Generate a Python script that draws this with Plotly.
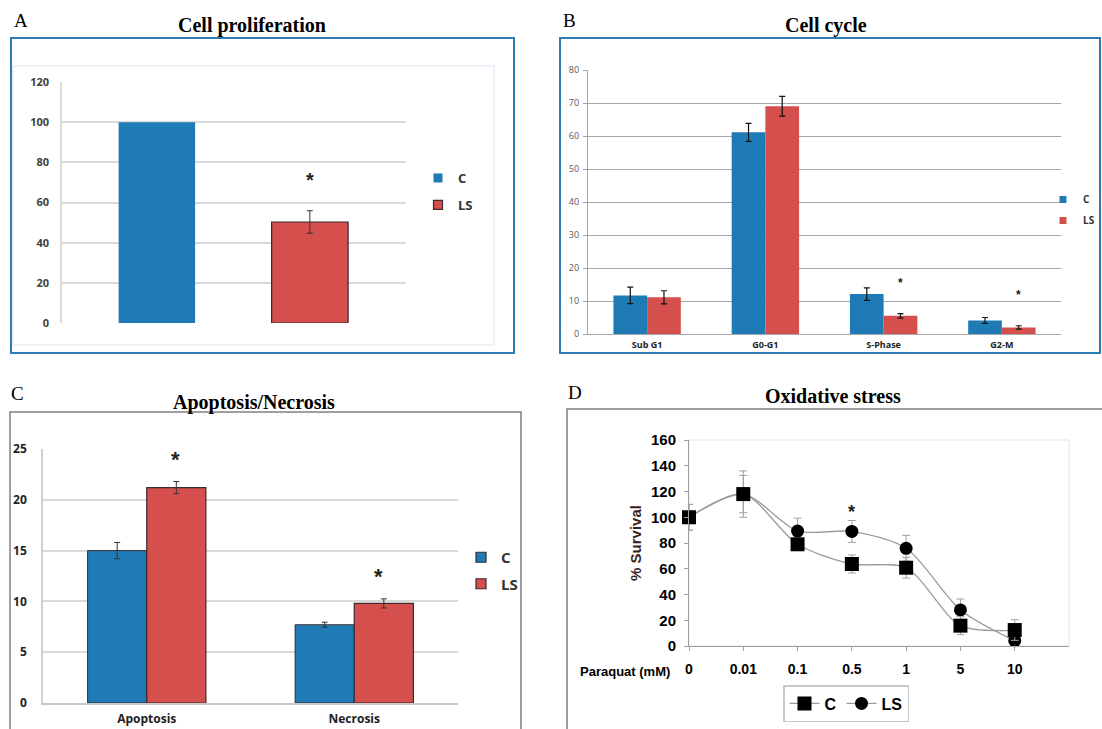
import plotly.graph_objects as go

W, H = 1102, 729
def X(p): return p / W
def Y(p): return 1 - p / H

BLUE = "#1F7BB6"
RED = "#D5504C"
EDGE = "#3a2a2a"

# ---------------- data ----------------
# A: Cell proliferation
a_groups = ["C", "LS"]
a_values = [100, 50.3]
a_errors = [0, 5.6]

# B: Cell cycle
b_phases = ["Sub G1", "G0-G1", "S-Phase", "G2-M"]
b_c = [11.7, 61.1, 12.1, 4.1]
b_c_err = [2.5, 2.7, 1.9, 0.9]
b_ls = [11.1, 69.0, 5.5, 2.0]
b_ls_err = [2.0, 3.0, 0.7, 0.5]
b_sig = ["S-Phase", "G2-M"]

# C: Apoptosis / Necrosis
c_cats = ["Apoptosis", "Necrosis"]
c_c = [15.0, 7.7]
c_c_err = [0.8, 0.25]
c_ls = [21.2, 9.8]
c_ls_err = [0.6, 0.45]

# D: Oxidative stress
d_doses = ["0", "0.01", "0.1", "0.5", "1", "5", "10"]
d_c = [100, 118, 79, 63.7, 60.8, 15.8, 12.4]
d_c_err = [10, 14.5, 4, 7, 8, 7, 8]
d_ls = [100, 118, 89.3, 89.0, 75.9, 28, 4.1]
d_ls_err = [10, 18, 10, 8.5, 10, 8.5, 3]
d_sig = ["0.5"]

fig = go.Figure()

def legend_entry(name, color, edge, legend, size, group):
    fig.add_trace(go.Scatter(x=[None], y=[None], mode="markers", name=name,
                             marker=dict(symbol="square", size=size, color=color,
                                         line=dict(color=edge, width=1.2 if edge else 0)),
                             legend=legend, legendgroup=group, showlegend=True, hoverinfo="skip"))

# ---------------- Panel A ----------------
for i, (g, col) in enumerate(zip(a_groups, [BLUE, RED])):
    fig.add_trace(go.Bar(
        x=[g], y=[a_values[i]], name=g, xaxis="x", yaxis="y",
        marker=dict(color=col, line=dict(color=EDGE if i == 1 else col, width=1.2 if i == 1 else 0)),
        width=0.5, offsetgroup="a",
        error_y=dict(type="data", array=[a_errors[i]], visible=a_errors[i] > 0,
                     color="#333333", thickness=1, width=3),
        showlegend=False))
legend_entry("C", BLUE, None, "legend", 9, "a1")
legend_entry("LS", RED, EDGE, "legend", 9, "a2")

# ---------------- Panel B ----------------
fig.add_trace(go.Bar(x=b_phases, y=b_c, name="C", xaxis="x2", yaxis="y2",
                     marker=dict(color=BLUE, line=dict(width=0)),
                     error_y=dict(type="data", array=b_c_err, color="#111111", thickness=1.2, width=3),
                     showlegend=False))
fig.add_trace(go.Bar(x=b_phases, y=b_ls, name="LS", xaxis="x2", yaxis="y2",
                     marker=dict(color=RED, line=dict(width=0)),
                     error_y=dict(type="data", array=b_ls_err, color="#111111", thickness=1.2, width=3),
                     showlegend=False))
legend_entry("C", BLUE, None, "legend2", 7, "b1")
legend_entry("LS", RED, None, "legend2", 7, "b2")

# ---------------- Panel C ----------------
fig.add_trace(go.Bar(x=c_cats, y=c_c, name="C", xaxis="x3", yaxis="y3",
                     marker=dict(color=BLUE, line=dict(color=EDGE, width=1)),
                     error_y=dict(type="data", array=c_c_err, color="#333333", thickness=1, width=3),
                     showlegend=False))
fig.add_trace(go.Bar(x=c_cats, y=c_ls, name="LS", xaxis="x3", yaxis="y3",
                     marker=dict(color=RED, line=dict(color=EDGE, width=1.2)),
                     error_y=dict(type="data", array=c_ls_err, color="#333333", thickness=1, width=3),
                     showlegend=False))
legend_entry("C", BLUE, EDGE, "legend3", 10, "c1")
legend_entry("LS", RED, EDGE, "legend3", 10, "c2")

# ---------------- Panel D ----------------
fig.add_trace(go.Scatter(x=d_doses, y=d_ls, name="LS", xaxis="x4", yaxis="y4",
                         mode="lines+markers", line=dict(color="#9a9a9a", width=1.3, shape="spline", smoothing=0.8),
                         marker=dict(symbol="circle", size=13, color="black"),
                         error_y=dict(type="data", array=d_ls_err, color="#a0a0a0", thickness=1, width=4),
                         cliponaxis=False, legend="legend4", legendrank=2))
fig.add_trace(go.Scatter(x=d_doses, y=d_c, name="C", xaxis="x4", yaxis="y4",
                         mode="lines+markers", line=dict(color="#9a9a9a", width=1.3, shape="spline", smoothing=0.8),
                         marker=dict(symbol="square", size=14, color="black"),
                         error_y=dict(type="data", array=d_c_err, color="#a0a0a0", thickness=1, width=4),
                         cliponaxis=False, legend="legend4", legendrank=1))

# ---------------- Axes ----------------
tickfontA = dict(family="Open Sans", size=11, color="#404040", weight="bold")
layout = dict(
    template="none",
    width=W, height=H, margin=dict(l=0, r=0, t=0, b=0, autoexpand=False),
    paper_bgcolor="white", plot_bgcolor="white",
    barmode="group", bargap=0.43, bargroupgap=0,
    # A
    xaxis=dict(domain=[X(62), X(406)], anchor="y", type="category",
               categoryorder="array", categoryarray=a_groups,
               range=[-0.62, -0.62 + 344 / 153], showticklabels=False, ticks="",
               showline=False, showgrid=False, zeroline=False, automargin=False),
    yaxis=dict(domain=[Y(323), Y(82)], anchor="x", range=[0, 120], dtick=20,
               gridcolor="#d9d9d9", gridwidth=1.5, showline=True, linecolor="#d9d9d9", linewidth=1.5,
               zeroline=False, tickfont=tickfontA, ticks="", ticklabelstandoff=9, automargin=False),
    # B
    xaxis2=dict(domain=[X(588), X(1061)], anchor="y2", type="category",
                tickfont=dict(family="Open Sans", size=9, color="#222222", weight="bold"),
                showline=True, linecolor="#a6a6a6", linewidth=1.2, ticks="", ticklabelstandoff=2,
                showgrid=False, zeroline=False, automargin=False),
    yaxis2=dict(domain=[Y(334), Y(70)], anchor="x2", range=[0, 80], dtick=10,
                gridcolor="#a6a6a6", gridwidth=1.2, showline=True, linecolor="#a6a6a6", linewidth=1.2,
                ticks="outside", ticklen=4, tickcolor="#a6a6a6", zeroline=False,
                tickfont=dict(family="Open Sans", size=9, color="#595959"), ticklabelstandoff=2,
                automargin=False),
    # C
    xaxis3=dict(domain=[X(43), X(458)], anchor="y3", type="category",
                tickfont=dict(family="Open Sans", size=12, color="#222222", weight="bold"),
                showline=True, linecolor="#c8c8c8", linewidth=1.5, ticks="", ticklabelstandoff=4,
                showgrid=False, zeroline=False, automargin=False),
    yaxis3=dict(domain=[Y(703), Y(449)], anchor="x3", range=[0, 25], dtick=5,
                gridcolor="#d9d9d9", gridwidth=1.5, showline=True, linecolor="#d0d0d0", linewidth=1.5,
                zeroline=False, tickfont=dict(family="Open Sans", size=12, color="#222222", weight="bold"),
                ticks="", ticklabelstandoff=12, automargin=False),
    # D
    xaxis4=dict(domain=[X(689), X(1069)], anchor="y4", type="category",
                categoryorder="array", categoryarray=d_doses, range=[0, 7],
                tickfont=dict(family="Liberation Sans", size=14, color="black", weight="bold"),
                showline=True, linecolor="#a0a0a0", linewidth=1, ticks="outside", ticklen=4,
                tickcolor="#a0a0a0", ticklabelstandoff=6, showgrid=False, zeroline=False,
                automargin=False),
    yaxis4=dict(domain=[Y(646), Y(440)], anchor="x4", range=[0, 160], dtick=20,
                tickfont=dict(family="Liberation Sans", size=15, color="black", weight="bold"),
                showline=True, linecolor="#a0a0a0", linewidth=1, ticks="outside", ticklen=4,
                tickcolor="#a0a0a0", ticklabelstandoff=5, showgrid=False, zeroline=False,
                automargin=False,
                title=dict(text="% Survival", font=dict(family="Liberation Sans", size=15, color="#3a1f1f", weight="bold"),
                           standoff=5)),
    # Legends
    legend=dict(x=X(418), y=Y(163), xanchor="left", yanchor="top", bgcolor="rgba(0,0,0,0)",
                font=dict(family="Open Sans", size=13, color="#333333", weight="bold"),
                itemwidth=30, tracegroupgap=7),
    legend2=dict(x=X(1043), y=Y(185), xanchor="left", yanchor="top", bgcolor="rgba(0,0,0,0)",
                 font=dict(family="Open Sans", size=10, color="#333333", weight="bold"),
                 itemwidth=30, tracegroupgap=2),
    legend3=dict(x=X(461), y=Y(541), xanchor="left", yanchor="top", bgcolor="rgba(0,0,0,0)",
                 font=dict(family="Open Sans", size=15, color="#333333", weight="bold"),
                 itemwidth=30, tracegroupgap=4),
    legend4=dict(x=X(846), y=Y(685), xanchor="center", yanchor="top", orientation="h",
                 bgcolor="white", bordercolor="#c8c8c8", borderwidth=1.5,
                 font=dict(family="Liberation Sans", size=16, color="black", weight="bold"),
                 itemwidth=30),
)
fig.update_layout(**layout)

# ---------------- Panel frames ----------------
shapes = [
    dict(type="rect", xref="paper", yref="paper", x0=X(11), x1=X(514), y0=Y(353), y1=Y(38),
         line=dict(color="#2E7CB5", width=2)),
    dict(type="rect", xref="paper", yref="paper", x0=X(13), x1=X(494), y0=Y(345), y1=Y(66),
         line=dict(color="#dce6f2", width=1)),
    dict(type="rect", xref="paper", yref="paper", x0=X(560), x1=X(1100), y0=Y(353), y1=Y(38),
         line=dict(color="#2E7CB5", width=2)),
    dict(type="rect", xref="paper", yref="paper", x0=X(10), x1=X(521), y0=Y(745), y1=Y(412),
         line=dict(color="#808080", width=1.5)),
    dict(type="rect", xref="paper", yref="paper", x0=X(567), x1=X(1110), y0=Y(745), y1=Y(409),
         line=dict(color="#808080", width=1.5)),
    dict(type="rect", xref="x4 domain", yref="y4 domain", x0=0, x1=1, y0=0, y1=1,
         line=dict(color="#e3e3e3", width=1), layer="below"),
]
fig.update_layout(shapes=shapes)

# ---------------- Text ----------------
ann = []
titlefont = dict(family="Liberation Serif", size=20, color="black", weight="bold")
letterfont = dict(family="Liberation Serif", size=19, color="black")
for txt, x, y in [("Cell proliferation", 252, 26), ("Cell cycle", 826, 25),
                  ("Apoptosis/Necrosis", 254, 402), ("Oxidative stress", 833, 396)]:
    ann.append(dict(text=txt, x=X(x), y=Y(y), xref="paper", yref="paper", showarrow=False,
                    font=titlefont, xanchor="center", yanchor="middle"))
for txt, x, y in [("A", 21, 20), ("B", 569, 20), ("C", 17, 393), ("D", 575, 392)]:
    ann.append(dict(text=txt, x=X(x), y=Y(y), xref="paper", yref="paper", showarrow=False,
                    font=letterfont, xanchor="center", yanchor="middle"))

ann.append(dict(text="Paraquat (mM)", x=X(672), y=Y(671), xref="paper", yref="paper", showarrow=False,
                font=dict(family="Liberation Sans", size=13, color="black", weight="bold"),
                xanchor="right", yanchor="middle"))

# significance stars
star = dict(showarrow=False, text="*", yanchor="bottom")
ann.append(dict(star, x="LS", y=a_values[1] + a_errors[1], xref="x", yref="y", yshift=18,
                font=dict(family="Liberation Sans", size=20, color="#222222", weight="bold")))
for ph in b_sig:
    i = b_phases.index(ph)
    ann.append(dict(star, x=ph, y=b_ls[i] + b_ls_err[i], xref="x2", yref="y2", xshift=17, yshift=22,
                    font=dict(family="Liberation Sans", size=12, color="#222222", weight="bold")))
for i, (cat, xs) in enumerate(zip(c_cats, [29, 24])):
    ann.append(dict(star, x=cat, y=c_ls[i] + c_ls_err[i], xref="x3", yref="y3", xshift=xs, yshift=8,
                    font=dict(family="Liberation Sans", size=22, color="#222222", weight="bold")))
for d in d_sig:
    i = d_doses.index(d)
    ann.append(dict(star, x=i, y=d_ls[i] + d_ls_err[i], xref="x4", yref="y4", yshift=-4,
                    font=dict(family="Liberation Sans", size=18, color="#222222", weight="bold")))
fig.update_layout(annotations=ann)

fig.write_html("out.html", config={"displayModeBar": False},
               post_script="document.body.style.margin='0';document.body.style.overflow='hidden';")
